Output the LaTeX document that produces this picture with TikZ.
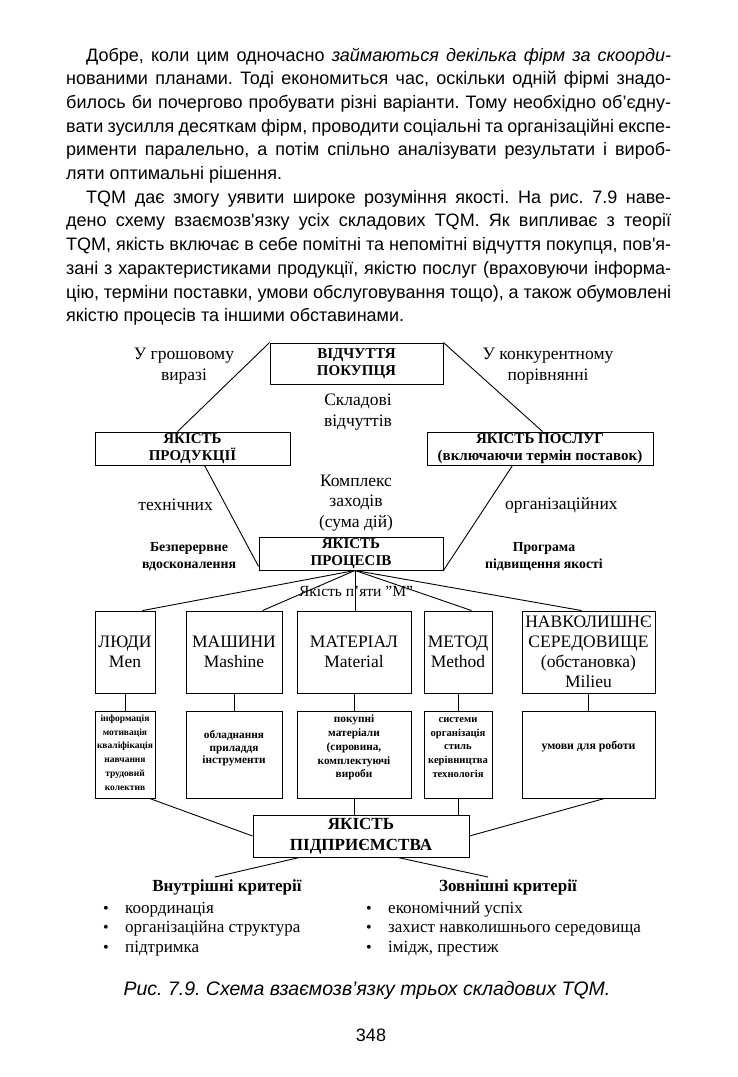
\documentclass[tikz,border=0pt]{standalone}
\usepackage{fontspec}
\setmainfont{Liberation Serif}
\newfontfamily\arial{Liberation Sans}
\usetikzlibrary{calc}
\frenchspacing
\newcommand{\pl}[4]{\node[anchor=base west,inner sep=0pt] at (#1,#2) {\arial\fontsize{18}{20}\selectfont\makebox[#3pt][s]{#4}};}
\newcommand{\pn}[3]{\node[anchor=base west,inner sep=0pt] at (#1,#2) {\arial\fontsize{18}{20}\selectfont #3};}
\begin{document}
\begin{tikzpicture}[x=1pt,y=-1pt,
  box/.style={draw,line width=0.9pt,inner sep=0pt,align=center},
  conn/.style={line width=0.9pt},
  lbl/.style={inner sep=0pt,align=center,font=\fontsize{17.5}{20.5}\selectfont},
  blbl/.style={inner sep=0pt,align=center,font=\bfseries\fontsize{13.8}{17}\selectfont},
  bx/.style={font=\bfseries\fontsize{15}{17}\selectfont},
  mx/.style={font=\fontsize{17.5}{20}\selectfont},
  dt/.style={inner sep=0pt,align=center}]
\useasboundingbox (0,0) rectangle (737,1077);
% paragraph
\pl{86}{61}{585}{Добре, коли цим одночасно \textit{займаються декілька фірм за скоорди-}}
\pl{66}{84.7}{605}{нованими планами. Тоді економиться час, оскільки одній фірмі знадо-}
\pl{66}{108.4}{605}{билось би почергово пробувати різні варіанти. Тому необхідно об’єдну-}
\pl{66}{132.1}{605}{вати зусилля десяткам фірм, проводити соціальні та організаційні експе-}
\pl{66}{155.8}{605}{рименти паралельно, а потім спільно аналізувати результати і вироб-}
\pn{66}{179.5}{ляти оптимальні рішення.}
\pl{86}{203.2}{585}{TQM дає змогу уявити широке розуміння якості. На рис. 7.9 наве-}
\pl{66}{226.9}{605}{дено схему взаємозв'язку усіх складових TQM. Як випливає з теорії}
\pl{66}{250.6}{605}{TQM, якість включає в себе помітні та непомітні відчуття покупця, пов'я-}
\pl{66}{274.3}{605}{зані з характеристиками продукції, якістю послуг (враховуючи інформа-}
\pl{66}{298}{605}{цію, терміни поставки, умови обслуговування тощо), а також обумовлені}
\pn{66}{321.7}{якістю процесів та іншими обставинами.}
% boxes
\node[box,bx,minimum width=173pt,minimum height=41pt] (top) at (356.5,363.5) {ВІДЧУТТЯ\\ПОКУПЦЯ};
\node[box,bx,minimum width=195pt,minimum height=33pt] (prod) at (192.5,448.5) {ЯКІСТЬ\\ПРОДУКЦІЇ};
\node[box,bx,minimum width=226pt,minimum height=33pt] (serv) at (540,448.5) {ЯКІСТЬ ПОСЛУГ\\(включаючи термін поставок)};
\node[box,bx,minimum width=184pt,minimum height=33pt] (proc) at (351,553.5) {ЯКІСТЬ\\ПРОЦЕСІВ};
\node[box,mx,minimum width=60pt,minimum height=82pt] (m1) at (125,652) {ЛЮДИ\\Men};
\node[box,mx,minimum width=96pt,minimum height=82pt] (m2) at (234,652) {МАШИНИ\\Mashine};
\node[box,mx,minimum width=114pt,minimum height=82pt] (m3) at (354,652) {МАТЕРІАЛ\\Material};
\node[box,mx,minimum width=68pt,minimum height=82pt] (m4) at (458,652) {МЕТОД\\Method};
\node[box,mx,minimum width=133pt,minimum height=82pt] (m5) at (588.5,652) {НАВКОЛИШНЄ\\СЕРЕДОВИЩЕ\\(обстановка)\\Milieu};
\node[box,minimum width=60pt,minimum height=87pt] (d1) at (125,754.5) {};
\node[box,minimum width=96pt,minimum height=87pt] (d2) at (234,754.5) {};
\node[box,minimum width=114pt,minimum height=87pt] (d3) at (354,754.5) {};
\node[box,minimum width=68pt,minimum height=87pt] (d4) at (458,754.5) {};
\node[box,minimum width=133pt,minimum height=87pt] (d5) at (588.5,754.5) {};
\node[dt,font=\bfseries\fontsize{9.5}{13.8}\selectfont] (t1) at ($(d1)+(0,-2)$) {інформація\\мотивація\\кваліфікація\\навчання\\трудовий\\колектив};
\node[dt,font=\bfseries\fontsize{11.3}{12.5}\selectfont] (t2) at ($(d2)+(0,-6)$) {обладнання\\приладдя\\інструменти};
\node[dt,font=\bfseries\fontsize{11.3}{13.8}\selectfont] (t3) at ($(d3)+(0,-7)$) {покупні\\матеріали\\(сировина,\\комплектуючі\\вироби};
\node[dt,font=\bfseries\fontsize{10.6}{13.8}\selectfont] (t4) at ($(d4)+(0,-7)$) {системи\\організація\\стиль\\керівництва\\технологія};
\node[dt,font=\bfseries\fontsize{11.8}{14}\selectfont] (t5) at ($(d5)+(0,-8)$) {умови для роботи};
\node[box,font=\bfseries\fontsize{17}{21}\selectfont,minimum width=216pt,minimum height=42pt] (ent) at (361,836) {ЯКІСТЬ\\ПІДПРИЄМСТВА};
% labels
\node[lbl] (l1) at (184,366) {У грошовому\\виразі};
\node[lbl] (l2) at (548,366) {У конкурентному\\порівнянні};
\node[lbl] (l3) at (358,412) {Складові\\відчуттів};
\node[lbl] (l4) at (356,503) {Комплекс\\заходів\\(сума дій)};
\node[lbl,anchor=east] (l5) at (213,505) {технічних};
\node[lbl,anchor=west] (l6) at (505,505) {організаційних};
\node[blbl] (l7) at (189,556.5) {Безперервне\\вдосконалення};
\node[blbl] (l8) at (544,556.5) {Програма\\підвищення якості};
% connectors
\draw[conn] (top.north west) -- ($(prod.north west)+(83,0)$);
\draw[conn] (top.north east) -- ($(serv.north west)+(116,0)$);
\draw[conn] ($(prod.south west)+(110,0)$) -- ($(proc.south west)+(0,-4)$);
\draw[conn] ($(serv.south west)+(86,0)$) -- (proc.south east);
\coordinate (fan) at ($(proc.south)+(4,0)$);
\draw[conn] (fan) -- ($(m1.north west)+(48,0)$);
\draw[conn] (fan) -- ($(m2.north west)+(77,0)$);
\draw[conn] (fan) -- (fan |- m3.north);
\draw[conn] (fan) -- ($(m4.north west)+(48,0)$);
\draw[conn] (fan) -- ($(m5.north west)+(60,0)$);
\node[lbl,font=\fontsize{15.5}{20}\selectfont] (l9) at (356,591) {Якість п’яти \symbol{34}М\symbol{34}};
\foreach \i in {1,...,5} {\draw[conn] (m\i.south) -- (d\i.north);}
\draw[conn] ($(d1.south west)+(55,0)$) -- (ent.west);
\draw[conn] ($(d5.south west)+(83,0)$) -- (ent.east);
\draw[conn] ($(d2.south west)+(75,0)$) -- ($(d2.south west)+(75,0)$ |- ent.north);
\draw[conn] (d3.south) -- (d3.south |- ent.north);
\draw[conn] (d4.south) -- (d4.south |- ent.north);
\coordinate (cl) at (215,877);
\coordinate (cr) at (488,877);
\draw[conn] ($(ent.south west)+(47,0)$) -- (cl);
\draw[conn] ($(ent.south west)+(145,0)$) -- (cr);
% criteria
\node[inner sep=0pt,font=\bfseries\fontsize{17}{20}\selectfont] (ci) at (227,887) {Внутрішні критерії};
\node[inner sep=0pt,font=\bfseries\fontsize{17}{20}\selectfont] (ce) at (508,887) {Зовнішні критерії};
\foreach \t [count=\k] in {координація,організаційна структура,підтримка} {
  \node[inner sep=0pt,anchor=base] at (106,{913+(\k-1)*19.5}) {\fontsize{16}{18}\selectfont\textbullet};
  \node[inner sep=0pt,anchor=base west] at (125,{913+(\k-1)*19.5}) {\fontsize{17}{18}\selectfont \t};
}
\foreach \t [count=\k] in {економічний успіх,захист навколишнього середовища,{імідж, престиж}} {
  \node[inner sep=0pt,anchor=base] at (369,{913+(\k-1)*19.5}) {\fontsize{16}{18}\selectfont\textbullet};
  \node[inner sep=0pt,anchor=base west] at (388,{913+(\k-1)*19.5}) {\fontsize{17}{18}\selectfont \t};
}
\node[inner sep=0pt,font=\arial\itshape\fontsize{19.5}{20}\selectfont] (cap) at (367,990) {Рис. 7.9. Схема взаємозв’язку трьох складових TQM.};
\node[inner sep=0pt,font=\arial\fontsize{18}{20}\selectfont] (pg) at (371,1035) {348};
\end{tikzpicture}
\end{document}
